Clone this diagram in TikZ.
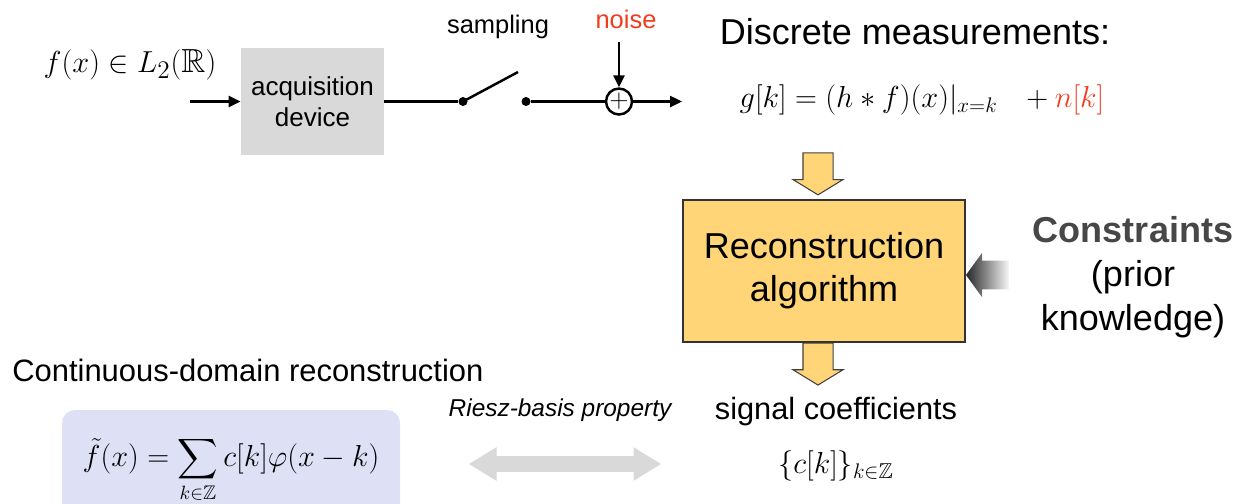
\documentclass[tikz,border=0pt]{standalone}
\usepackage[no-math]{fontspec}
\setmainfont{Liberation Sans}
\usepackage{amssymb}
\usetikzlibrary{positioning, arrows.meta, shapes.arrows}
\definecolor{acqgray}{RGB}{217,217,217}
\definecolor{algoyellow}{RGB}{255,213,120}
\definecolor{reconblue}{RGB}{222,224,246}
\definecolor{noisered}{RGB}{242,60,30}
\newcommand{\fs}[1]{\fontsize{#1}{1.2\dimexpr#1pt\relax}\selectfont}

\begin{document}
\begin{tikzpicture}[>={Triangle[length=2.4mm,width=2.2mm]},
  txt/.style={inner sep=0pt},
  wire/.style={line width=1.4pt},
  dot/.style={circle, fill, inner sep=0pt, minimum size=1.8mm},
  acqbox/.style={fill=acqgray, align=center, minimum width=2.86cm, minimum height=2.14cm, font=\fs{14.8}},
  algobox/.style={fill=algoyellow, draw=black!80, line width=0.6pt, align=center,
                  minimum width=5.64cm, minimum height=2.84cm, font=\fontsize{20.5}{24.5}\selectfont},
  yarrow/.style={single arrow, draw=black!75, line width=0.6pt, fill=algoyellow, rotate=-90,
                 minimum height=0.84cm, single arrow head extend=0.2cm,
                 single arrow tip angle=117, inner xsep=0pt, inner ysep=0.29cm},
  garrow/.style={single arrow, rotate=180, left color=black!85, right color=black!3,
                 minimum height=0.86cm, single arrow head extend=0.16cm,
                 single arrow tip angle=108, inner xsep=0pt, inner ysep=0.28cm},
  darrow/.style={double arrow, fill=acqgray, minimum height=3.84cm,
                 double arrow head extend=0.18cm, double arrow tip angle=63, inner xsep=0pt, inner ysep=0.15cm}]
  \useasboundingbox (0,0) rectangle (24.94,-10.06);
  % acquisition
  \node[txt, font=\fs{19}] (fx) at (2.6,-1.3) {$f(x)\in L_2(\mathbb{R})$};
  \node[acqbox] (acq) at (6.25,-2.03) {acquisition\\device};
  \coordinate (in) at (3.8,-2.03);
  \node[dot] (s1) at (9.26,-2.03) {};
  \coordinate (sw) at (10.36,-1.44);
  \node[dot] (s2) at (10.52,-2.03) {};
  \node[circle, draw, wire, inner sep=0pt, minimum size=0.52cm, font=\fs{14}] (plus) at (12.38,-2.03) {$+$};
  \coordinate (out) at (13.64,-2.03);
  \node[txt, font=\fs{14.5}] (samp) at (9.96,-0.54) {sampling};
  \node[txt, font=\fs{14.5}, text=noisered] (noise) at (12.52,-0.38) {noise};
  \coordinate (nz) at (12.38,-0.84);
  \draw[wire,->] (in) -- (acq);
  \draw[wire] (acq) -- (s1);
  \draw[wire] (s1.center) -- (sw);
  \draw[wire] (s2) -- (plus);
  \draw[wire,->] (plus) -- (out);
  \draw[wire,->] (nz) -- (plus);
  % measurements and reconstruction
  \node[txt, font=\fs{20.5}] (meas) at (18.3,-0.64) {Discrete measurements:};
  \node[txt, font=\fs{18.2}] (geq) at (18.44,-2.0) {$g[k]=(h*f)(x)|_{x=k}\;\;\,+\textcolor{noisered}{n[k]}$};
  \node[algobox] (algo) at (16.48,-5.42) {Reconstruction\\algorithm};
  \node[yarrow, anchor=tip] (ain) at ([xshift=-0.12cm,yshift=0.08cm]algo.north) {};
  \node[yarrow, anchor=tail] (aout) at ([xshift=-0.12cm]algo.south) {};
  \node[garrow, anchor=tip] (prior) at ([yshift=-0.08cm]algo.east) {};
  \node[txt, align=center, font=\fontsize{20.5}{25}\selectfont] (cons) at (22.66,-5.54)
    {\textcolor{black!72}{\bfseries Constraints}\\(prior\\knowledge)};
  % coefficients
  \node[txt, font=\fs{17.6}, anchor=west] (cont) at (0.24,-7.4) {Continuous-domain reconstruction};
  \fill[reconblue, rounded corners=0.26cm] (1.24,-8.2) rectangle (8.0,-10.8);
  \node[txt, font=\fs{16}] (rec) at (4.62,-9.4) {$\displaystyle\tilde f(x)=\sum_{k\in\mathbb{Z}}c[k]\varphi(x-k)$};
  \node[txt, font=\itshape\fs{13.9}] (riesz) at (11.2,-8.2) {Riesz-basis property};
  \node[txt, font=\fs{17.5}] (coef) at (16.72,-8.24) {signal coefficients};
  \node[txt, font=\fs{17.5}] (ck) at (16.72,-9.32) {$\{c[k]\}_{k\in\mathbb{Z}}$};
  \node[darrow] (riesz arrow) at (11.3,-9.28) {};
\end{tikzpicture}
\end{document}
